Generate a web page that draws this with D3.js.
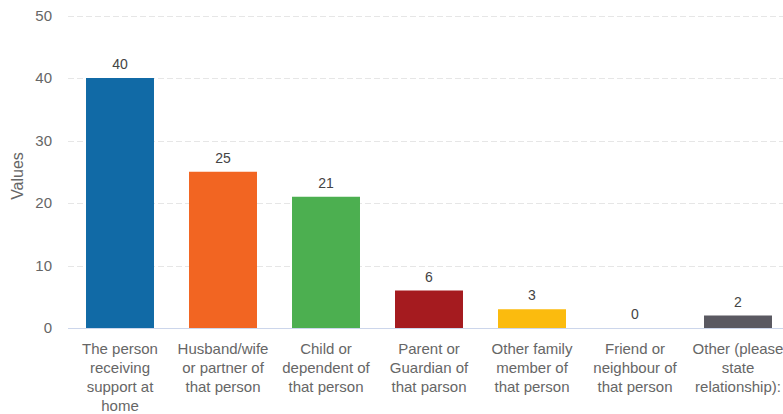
<!DOCTYPE html>
<html>
<head>
<meta charset="utf-8">
<script src="https://cdn.jsdelivr.net/npm/d3@7"></script>
<style>
  html, body { margin: 0; padding: 0; background: #fff; overflow: hidden; }
  svg { display: block; overflow: hidden; }
</style>
</head>
<body>
<div id="chart"></div>
<script>
// Data
const categories = [
    ["The person", "receiving", "support at", "home"],
    ["Husband/wife", "or partner of", "that person"],
    ["Child or", "dependent of", "that person"],
    ["Parent or", "Guardian of", "that parson"],
    ["Other family", "member of", "that person"],
    ["Friend or", "neighbour of", "that person"],
    ["Other (please", "state", "relationship):"]
];
const values = [40, 25, 21, 6, 3, 0, 2];
const colors = ["#116aa6", "#f26522", "#4caf50", "#a51b1f", "#fbbb0e", "#cccccc", "#5a5961"];
const yTicks = [0, 10, 20, 30, 40, 50];

const width = 783, height = 414;
const font_family = '"Liberation Sans", Arial, Helvetica, sans-serif';

const svg = d3.select("#chart").append("svg")
    .attr("width", width)
    .attr("height", height);

const keys = categories.map((c, i) => i);

const xScale = d3.scaleBand()
    .domain(keys)
    .range([68.5, 789.5])
    .paddingInner(0.34)
    .paddingOuter(0.17);

const yScale = d3.scaleLinear()
    .domain([0, 50])
    .range([328, 15.5]);

// Grid lines
svg.append("g").selectAll("line")
    .data(yTicks.filter(t => t > 0))
    .enter().append("line")
    .attr("x1", 68)
    .attr("x2", width)
    .attr("y1", d => Math.round(yScale(d)) + 0.5)
    .attr("y2", d => Math.round(yScale(d)) + 0.5)
    .attr("stroke", "#e6e6e6")
    .attr("stroke-dasharray", "6,3");

// Y axis labels
svg.append("g").selectAll("text")
    .data(yTicks)
    .enter().append("text")
    .attr("x", 52)
    .attr("y", d => yScale(d))
    .attr("dy", "0.35em")
    .attr("text-anchor", "end")
    .attr("fill", "#666")
    .attr("font-family", font_family)
    .attr("font-size", 15)
    .text(d => d);

// Y axis title
svg.append("text")
    .attr("transform", "rotate(-90)")
    .attr("x", -176)
    .attr("y", 23)
    .attr("text-anchor", "middle")
    .attr("fill", "#666")
    .attr("font-family", font_family)
    .attr("font-size", 16)
    .text("Values");

// Bars
svg.append("g").selectAll("rect")
    .data(values)
    .enter().append("rect")
    .attr("x", (d, i) => xScale(i))
    .attr("y", d => yScale(d))
    .attr("width", xScale.bandwidth())
    .attr("height", d => yScale(0) - yScale(d))
    .attr("fill", (d, i) => colors[i]);

// Baseline
svg.append("line")
    .attr("x1", 68)
    .attr("x2", width)
    .attr("y1", 328.5)
    .attr("y2", 328.5)
    .attr("stroke", "#ccd6eb");

// Data labels
svg.append("g").selectAll("text")
    .data(values)
    .enter().append("text")
    .attr("x", (d, i) => xScale(i) + xScale.bandwidth() / 2)
    .attr("y", d => yScale(d) - 9)
    .attr("text-anchor", "middle")
    .attr("fill", "#444")
    .attr("font-family", font_family)
    .attr("font-size", 14)
    .text(d => d);

// Category labels
const catGroup = svg.append("g").selectAll("text")
    .data(categories)
    .enter().append("text")
    .attr("x", (d, i) => xScale(i) + xScale.bandwidth() / 2)
    .attr("y", 354)
    .attr("text-anchor", "middle")
    .attr("fill", "#666")
    .attr("font-family", font_family)
    .attr("font-size", 15);

catGroup.selectAll("tspan")
    .data(d => d)
    .enter().append("tspan")
    .attr("x", function () { return d3.select(this.parentNode).attr("x"); })
    .attr("dy", (d, i) => i === 0 ? 0 : 19)
    .text(d => d);
</script>
</body>
</html>
